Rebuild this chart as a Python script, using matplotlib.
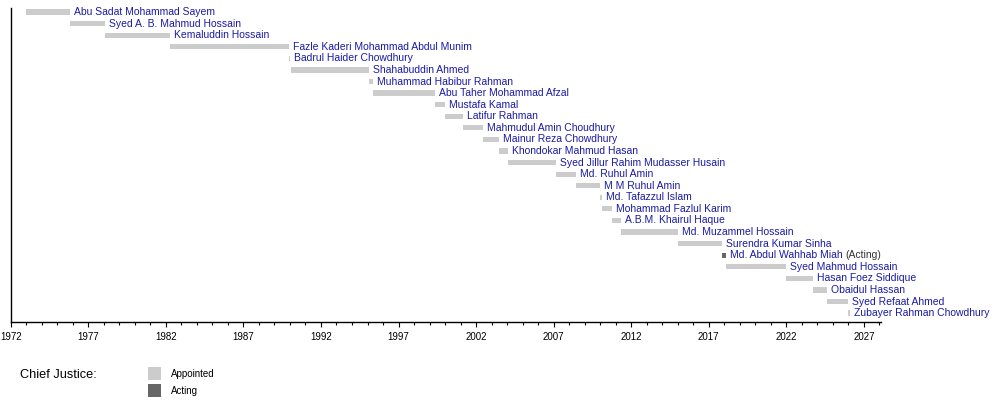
import matplotlib
matplotlib.use("Agg")
import matplotlib.pyplot as plt
from matplotlib.patches import Rectangle

plt.rcParams["font.family"] = ["Liberation Sans", "DejaVu Sans"]

# Chief Justices, in order, with term start/end as decimal years
names = [
    "Abu Sadat Mohammad Sayem",
    "Syed A. B. Mahmud Hossain",
    "Kemaluddin Hossain",
    "Fazle Kaderi Mohammad Abdul Munim",
    "Badrul Haider Chowdhury",
    "Shahabuddin Ahmed",
    "Muhammad Habibur Rahman",
    "Abu Taher Mohammad Afzal",
    "Mustafa Kamal",
    "Latifur Rahman",
    "Mahmudul Amin Choudhury",
    "Mainur Reza Chowdhury",
    "Khondokar Mahmud Hasan",
    "Syed Jillur Rahim Mudasser Husain",
    "Md. Ruhul Amin",
    "M M Ruhul Amin",
    "Md. Tafazzul Islam",
    "Mohammad Fazlul Karim",
    "A.B.M. Khairul Haque",
    "Md. Muzammel Hossain",
    "Surendra Kumar Sinha",
    "Md. Abdul Wahhab Miah",
    "Syed Mahmud Hossain",
    "Hasan Foez Siddique",
    "Obaidul Hassan",
    "Syed Refaat Ahmed",
    "Zubayer Rahman Chowdhury",
]
starts = [
    1972.96, 1975.85, 1978.08, 1982.28, 1989.92, 1990.04, 1995.08, 1995.33,
    1999.35, 2000.00, 2001.16, 2002.46, 2003.47, 2004.07, 2007.16, 2008.41,
    2009.97, 2010.10, 2010.74, 2011.37, 2015.04, 2017.86, 2018.09, 2022.00,
    2023.73, 2024.61, 2025.99,
]
ends = [
    1975.85, 1978.08, 1982.28, 1989.92, 1990.00, 1995.08, 1995.33, 1999.35,
    2000.00, 2001.16, 2002.46, 2003.47, 2004.07, 2007.16, 2008.41, 2009.97,
    2010.10, 2010.74, 2011.37, 2015.04, 2017.86, 2018.09, 2022.00, 2023.73,
    2024.61, 2025.99, 2026.08,
]
roles = ["Appointed"] * 21 + ["Acting"] + ["Appointed"] * 5

colors = {"Appointed": "#cccccc", "Acting": "#666666"}
name_color = "#1a1aa6"

fig = plt.figure(figsize=(10, 4), dpi=100)
# axes box in pixels: x 10.7..881, y 8..322 (from top)
ax = fig.add_axes([0.0107, 1 - 322 / 400, 0.8703, 314 / 400])

rows = list(range(len(names)))
widths = [e - s for s, e in zip(starts, ends)]
ax.barh(rows, widths, left=starts, height=0.45,
        color=[colors[r] for r in roles], linewidth=0)

for i, (name, end, role) in enumerate(zip(names, ends, roles)):
    t = ax.annotate(name, xy=(end, i), xytext=(4, 0), textcoords="offset pixels",
                    ha="left", va="center", fontsize=7.5, color=name_color)
    if role == "Acting":
        ax.annotate("(Acting)", xy=(1, 0.5), xycoords=t, xytext=(3, 0),
                    textcoords="offset pixels", ha="left", va="center",
                    fontsize=7.5, color="#333333")

ax.set_xlim(1972, 2028.1)
ax.set_ylim(26.77, -0.35)
ax.set_xticks(range(1972, 2028, 5))
ax.set_xticks(range(1972, 2029), minor=True)
ax.set_yticks([])
ax.tick_params(axis="x", which="major", length=3.6, width=0.8, labelsize=7, pad=3.5)
ax.tick_params(axis="x", which="minor", length=1.8, width=0.8)
for side in ("top", "right"):
    ax.spines[side].set_visible(False)
for side in ("left", "bottom"):
    ax.spines[side].set_linewidth(1.0)

# legend block below the axis
fig.text(20 / 1000, 1 - 375 / 400, "Chief Justice:", fontsize=9.2, va="center", ha="left")
for j, role in enumerate(["Appointed", "Acting"]):
    y_top = 367 + j * 17
    fig.add_artist(Rectangle((148 / 1000, 1 - (y_top + 12.5) / 400), 12.5 / 1000, 12.5 / 400,
                             transform=fig.transFigure, color=colors[role], linewidth=0))
    fig.text(171 / 1000, 1 - (y_top + 7) / 400, role, fontsize=7, va="center", ha="left")

fig.savefig("out.png", dpi=100)
